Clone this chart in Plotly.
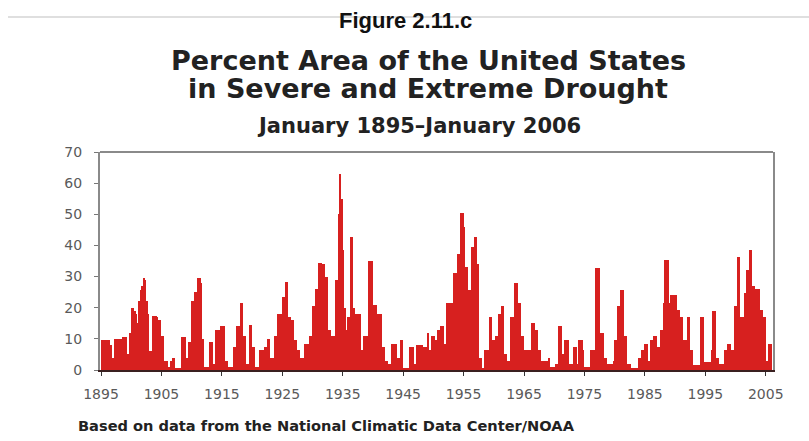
import plotly.graph_objects as go

# Quarterly readings (percent area)
v1895_1904 = [9.5, 9.5, 9.5, 9.5, 9.5, 9.5, 8, 4, 4, 10, 10, 10, 10, 10, 10.5, 10.5,
              10.5, 5, 5, 12, 20, 20, 19, 18, 15, 22, 25.7, 27, 29.5, 29, 22, 18,
              6, 6, 17.5, 17.5, 17.5, 17, 16, 16]
v1905_1914 = [11, 11, 3, 3, 1, 1, 3, 4, 4, 0.5, 0.5, 0.5, 0.5, 10.5, 10.5, 10.5,
              4, 4, 9, 9, 22, 22, 25, 25, 29.5, 29.5, 28, 10, 1, 1, 1, 1,
              9, 9, 2, 2, 13, 13, 13, 14]
v1915_1924 = [14, 14, 3, 3, 1, 1, 1, 1, 7.5, 7.5, 14, 14, 21.5, 21.5, 11, 11,
              2, 2, 14.5, 14.5, 7.5, 7.5, 1, 1, 1, 6.4, 6.4, 6.4, 7.5, 7.5, 10, 10,
              4, 4, 4, 11, 11, 18, 18, 18]
v1925_1934 = [23.5, 23.5, 28.3, 28.3, 17, 17, 16, 16, 9.6, 9.6, 6.4, 6.4, 4, 4, 4, 8.5,
              8.5, 8.5, 11, 11, 20.5, 20.5, 26, 26, 34.5, 34.5, 34, 34, 30, 30, 13, 13,
              11, 11, 11, 29, 29, 50, 63, 55]
v1935_1944 = [38.5, 20, 13, 17, 17, 42.6, 42.6, 20, 18, 18, 18, 18, 6.4, 6.4, 11, 11,
              11, 35, 35, 35, 21, 21, 21, 18, 18, 18, 7.5, 7.5, 3, 3, 2, 2,
              8.5, 8.5, 8.5, 8.5, 4, 4, 9.6, 9.6]
v1945_1954 = [0.5, 0.5, 0.5, 0.5, 7.5, 7.5, 7.5, 2, 2, 8, 8, 8, 8, 7.5, 7.5, 7.5,
              12, 6.4, 6.4, 11, 11, 9.6, 9.6, 13, 13, 14, 14, 8.5, 8.5, 21.5, 21.5, 21.5,
              21.5, 31, 31, 31, 37.4, 37.4, 50.3, 50.3]
v1955_1964 = [46, 33, 33, 25.7, 25.7, 39.5, 39.5, 42.6, 42.6, 34, 4, 4, 0.5, 0.5, 6.4, 6.4,
              6.4, 17, 17, 9.6, 9.6, 11, 11, 18, 18, 20.5, 20.5, 5, 5, 3, 3, 17,
              17, 17, 27.8, 27.8, 21.5, 21.5, 11, 11]
v1965_1974 = [6.4, 6.4, 6.4, 6.4, 6.4, 15, 15, 13, 13, 6.4, 6.4, 3, 3, 3, 3, 3,
              4, 1, 1, 1, 1, 2, 2, 14, 14, 5, 5, 9.6, 9.6, 9.6, 2, 2,
              2, 7.5, 7.5, 2, 9.6, 9.6, 9.6, 6.4]
v1975_1984 = [1, 1, 1, 1, 6.4, 6.4, 6.4, 32.7, 32.7, 32.7, 12, 12, 12, 4, 4, 2,
              2, 2, 2, 3, 9.6, 9.6, 20.5, 20.5, 25.7, 25.7, 11, 11, 2, 2, 2, 0.5,
              0.5, 0.5, 0.5, 0.5, 4, 4, 6.4, 6.4]
v1985_1994 = [8.5, 8.5, 3, 3, 9.6, 9.6, 11, 11, 7.5, 7.5, 13, 13, 21.5, 35.4, 35.4, 35.4,
              21.5, 24, 24, 24, 24, 19.3, 19.3, 17, 17, 9.6, 9.6, 9.6, 17, 17, 6.4, 6.4,
              1.5, 1.5, 1.5, 1.5, 1.5, 17, 17, 2.5]
v1995_2004 = [2.5, 2.5, 2.5, 2.5, 6.4, 19, 19, 4, 4, 2, 2, 2, 2, 6.4, 6.4, 8.5,
              8.5, 6.4, 6.4, 20.5, 20.5, 36.4, 36.4, 17, 17, 17, 24.6, 32, 32, 38.5, 38.5, 27,
              27, 26, 26, 26, 19.3, 19.3, 17, 17]
v2005 = [3, 3, 8.5, 8.5]

tick_years = [1895, 1905, 1915, 1925, 1935, 1945, 1955, 1965, 1975, 1985, 1995, 2005]
y_ticks = [0, 10, 20, 30, 40, 50, 60, 70]

values = (v1895_1904 + v1905_1914 + v1915_1924 + v1925_1934 + v1935_1944 + v1945_1954
          + v1955_1964 + v1965_1974 + v1975_1984 + v1985_1994 + v1995_2004 + v2005)
start_year = 1895
step = 0.25
x = [start_year + (i + 0.5) * step for i in range(len(values))]

W, H = 809, 441

# pixel -> paper coordinates (margins are zero, so paper == page)
def px(p):
    return p / W

def py(p):
    return (H - p) / H

fig = go.Figure(go.Bar(
    x=x, y=values, width=step,
    marker=dict(color="#d7201f", line=dict(width=0)),
    hoverinfo="x+y",
))

tick_font = dict(family="DejaVu Sans, Arial, sans-serif", size=14, color="#5a5a5a")
title_font = dict(family="DejaVu Sans, Arial, sans-serif", size=27, color="#222222")

fig.update_layout(
    width=W, height=H,
    margin=dict(l=0, r=0, t=0, b=0, pad=0),
    paper_bgcolor="white", plot_bgcolor="white",
    bargap=0, showlegend=False,
    xaxis=dict(domain=[px(100), px(773)], range=[1894.83, 2006.2], tickvals=tick_years,
               ticktext=[str(t) for t in tick_years],
               ticks="outside", ticklen=4, tickcolor="#333333",
               showline=True, linecolor="#3a2020", linewidth=2,
               showgrid=False, zeroline=False, tickfont=tick_font,
               ticklabelstandoff=6, automargin=False),
    yaxis=dict(domain=[py(370), py(152)], range=[0, 70], tickvals=y_ticks,
               ticks="outside", ticklen=4, tickcolor="#777777",
               showline=True, linecolor="#8a8a8a", linewidth=2, mirror=True,
               showgrid=False, zeroline=False, tickfont=tick_font,
               ticklabelstandoff=9, automargin=False),
    shapes=[
        # top frame of the plot box
        dict(type="line", xref="paper", yref="paper", x0=px(100), x1=px(773),
             y0=py(152), y1=py(152), line=dict(color="#8a8a8a", width=2)),
        # thin rule across the top of the page
        dict(type="line", xref="paper", yref="paper", x0=px(8), x1=1,
             y0=py(17), y1=py(17), line=dict(color="#c0c0c0", width=1.2)),
    ],
    annotations=[
        dict(text="<b>Figure 2.11.c</b>", x=px(406), y=py(20),
             xref="paper", yref="paper", showarrow=False, xanchor="center", yanchor="middle",
             font=dict(family="Liberation Sans, Arial, sans-serif", size=22, color="#111111")),
        dict(text="<b>Percent Area of the United States</b>",
             x=px(429), y=py(61), xref="paper", yref="paper", showarrow=False,
             xanchor="center", yanchor="middle", font=title_font),
        dict(text="<b>in Severe and Extreme Drought</b>",
             x=px(428), y=py(88), xref="paper", yref="paper", showarrow=False,
             xanchor="center", yanchor="middle", font=title_font),
        dict(text="<b>January 1895–January 2006</b>", x=px(419), y=py(126),
             xref="paper", yref="paper", showarrow=False, xanchor="center", yanchor="middle",
             font=dict(family="DejaVu Sans, Arial, sans-serif", size=21, color="#222222")),
        dict(text="<b>Based on data from the National Climatic Data Center/NOAA</b>",
             x=px(76), y=py(425), xref="paper", yref="paper", showarrow=False,
             xanchor="left", yanchor="middle",
             font=dict(family="DejaVu Sans, Arial, sans-serif", size=14.6, color="#222222")),
    ],
)

fig.write_html("out.html", config={"displayModeBar": False},
               post_script="document.body.style.margin='0px';document.body.style.overflow='hidden';")
